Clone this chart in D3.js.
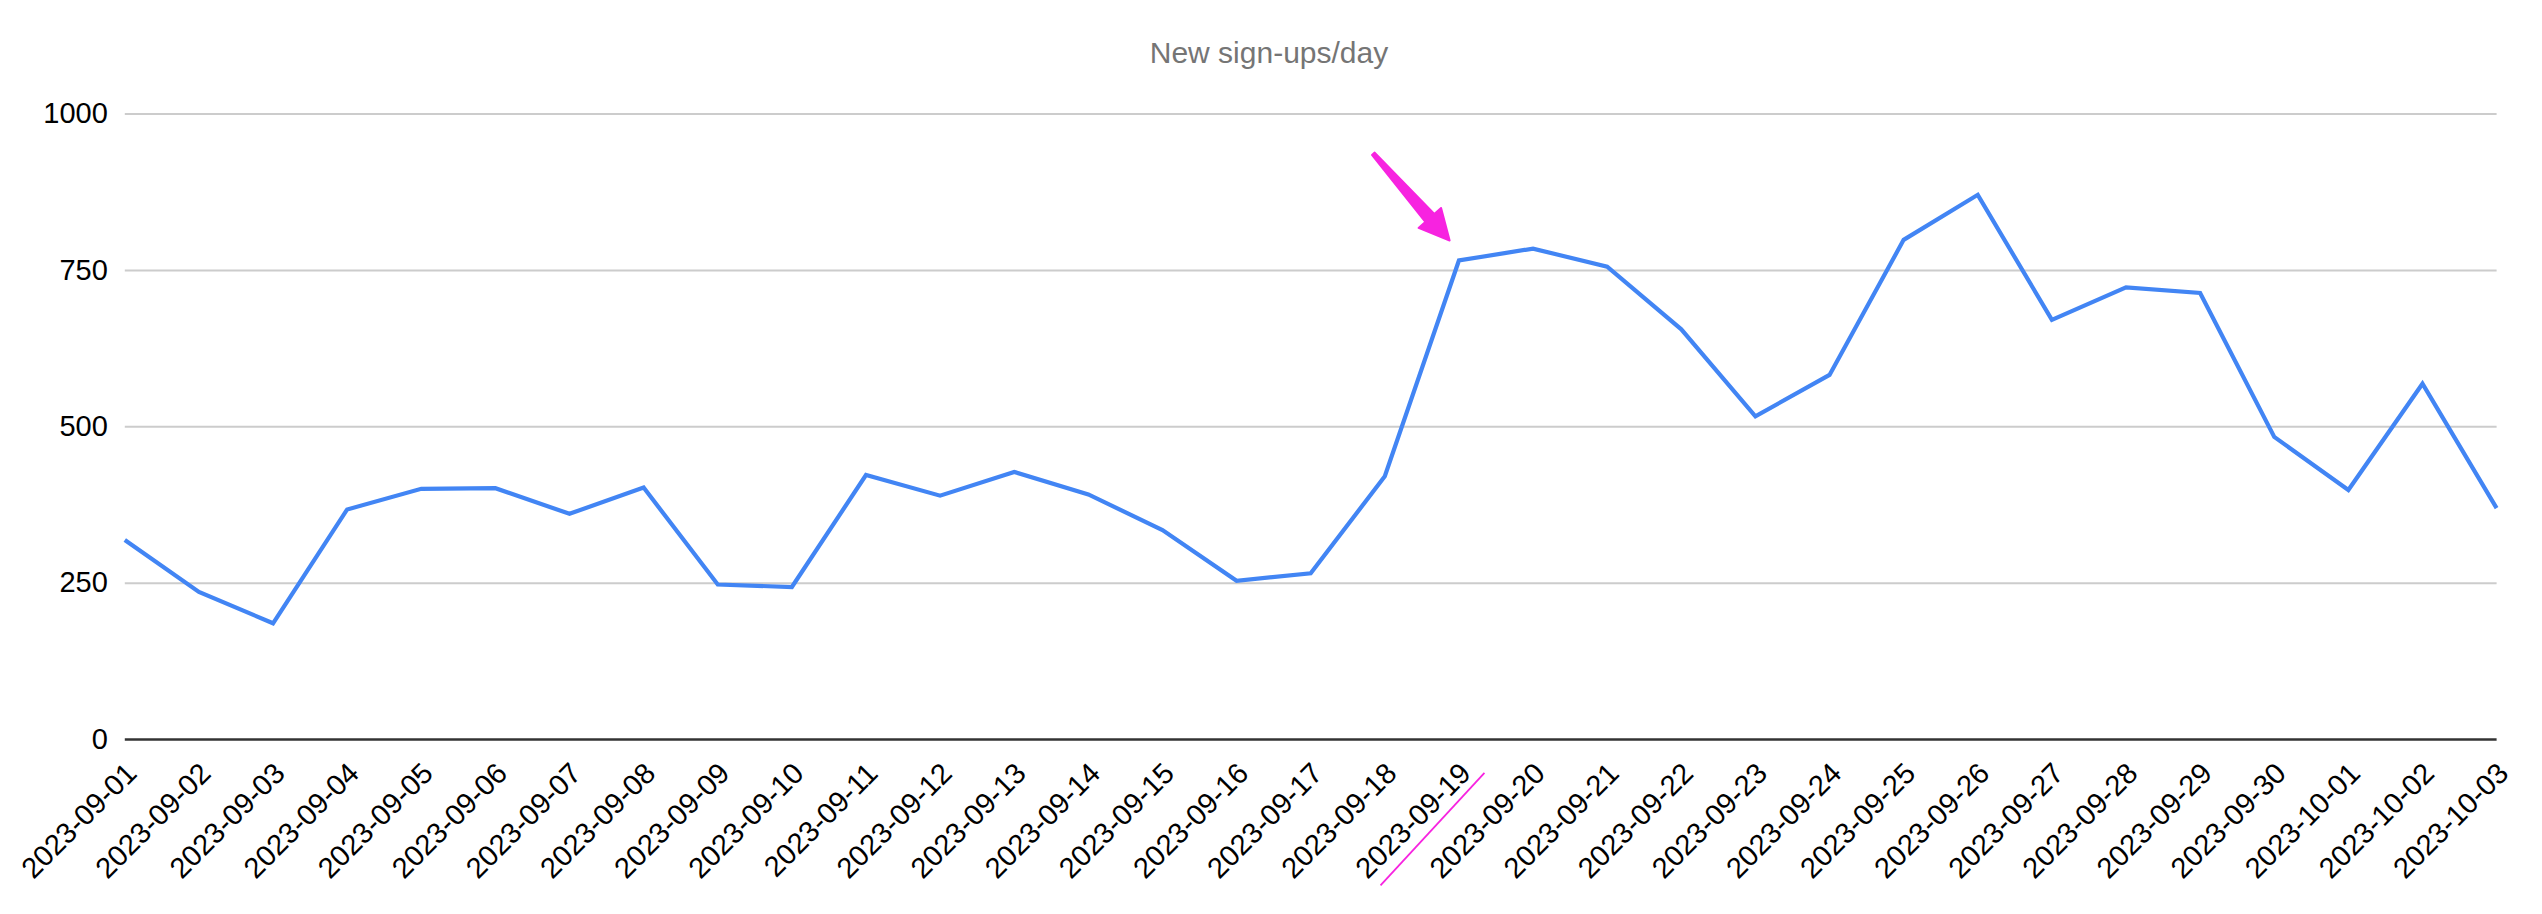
<!DOCTYPE html>
<html lang="en">
<head>
    <meta charset="UTF-8">
    <title>New sign-ups/day</title>
    <script src="https://d3js.org/d3.v7.min.js"></script>
    <style>
        body { margin: 0; background: #fff; }
        svg { display: block; font-family: Arial, "Liberation Sans", sans-serif; }
    </style>
</head>
<body>
    <svg width="2542" height="914"></svg>
    <script>
        const dates = [
            '2023-09-01', '2023-09-02', '2023-09-03', '2023-09-04', '2023-09-05', '2023-09-06',
            '2023-09-07', '2023-09-08', '2023-09-09', '2023-09-10', '2023-09-11', '2023-09-12',
            '2023-09-13', '2023-09-14', '2023-09-15', '2023-09-16', '2023-09-17', '2023-09-18',
            '2023-09-19', '2023-09-20', '2023-09-21', '2023-09-22', '2023-09-23', '2023-09-24',
            '2023-09-25', '2023-09-26', '2023-09-27', '2023-09-28', '2023-09-29', '2023-09-30',
            '2023-10-01', '2023-10-02', '2023-10-03'
        ];
        const signups = [
            318, 235, 185, 367, 400, 401, 360, 402, 247, 243, 422, 389,
            427, 391, 334, 253, 265, 420, 765, 784, 755, 655, 516, 582,
            798, 870, 670, 722, 713, 483, 398, 568, 369
        ];
        const yTicks = [0, 250, 500, 750, 1000];
        const highlightDate = '2023-09-19';

        const svg = d3.select('svg');
        const W = +svg.attr('width');
        const plot = { left: 124.8, right: 2496.6, top: 113.5, bottom: 739 };

        const x = d3.scalePoint().domain(dates).range([plot.left, plot.right]);
        const y = d3.scaleLinear().domain([0, 1000]).range([plot.bottom, plot.top]);

        // title
        svg.append('text')
            .attr('x', W / 2 - 2)
            .attr('y', 63)
            .attr('text-anchor', 'middle')
            .attr('font-size', 30)
            .attr('fill', '#757575')
            .text('New sign-ups/day');

        // y axis + gridlines
        const yAxis = svg.append('g')
            .attr('transform', `translate(${plot.left},0)`)
            .call(d3.axisLeft(y).tickValues(yTicks).tickFormat(d3.format('d'))
                .tickSize(-(plot.right - plot.left)).tickPadding(17));
        yAxis.select('.domain').remove();
        yAxis.selectAll('.tick line')
            .attr('stroke', d => d === 0 ? '#333' : '#ccc')
            .attr('stroke-width', d => d === 0 ? 2.6 : 2);
        yAxis.selectAll('.tick text')
            .attr('font-size', 29)
            .attr('fill', '#000')
            .attr('font-family', 'Arial, "Liberation Sans", sans-serif');

        // x axis labels, slanted
        const xAxis = svg.append('g')
            .attr('transform', `translate(0,${plot.bottom})`)
            .call(d3.axisBottom(x).tickSize(0));
        xAxis.select('.domain').remove();
        xAxis.selectAll('.tick text')
            .attr('y', 0)
            .attr('dy', null)
            .attr('text-anchor', 'end')
            .attr('transform', 'translate(13,36) rotate(-45)')
            .attr('font-size', 29)
            .attr('fill', '#000')
            .attr('font-family', 'Arial, "Liberation Sans", sans-serif');

        // line
        const data = dates.map((d, i) => ({ date: d, value: signups[i] }));
        const line = d3.line().x(d => x(d.date)).y(d => y(d.value));
        svg.append('path')
            .datum(data)
            .attr('fill', 'none')
            .attr('stroke', '#4285f4')
            .attr('stroke-width', 4.2)
            .attr('d', line);

        // annotation: arrow pointing at the highlighted day
        const hi = data.find(d => d.date === highlightDate);
        const px = x(hi.date), py = y(hi.value);
        const tip = [px - 9.3, py - 20];
        const tail = [px - 85.6, py - 106.7];
        const len = Math.hypot(tip[0] - tail[0], tip[1] - tail[1]);
        const ux = (tip[0] - tail[0]) / len, uy = (tip[1] - tail[1]) / len;
        const nx = -uy, ny = ux;
        const headLen = 30, headHalf = 15;
        const base = [tip[0] - ux * headLen, tip[1] - uy * headLen];
        const pt = (p, w) => [p[0] + nx * w, p[1] + ny * w];
        const arrowPts = [pt(tail, 1.8), pt(base, 6), pt(base, headHalf), tip,
                          pt(base, -headHalf), pt(base, -6), pt(tail, -1.8)];
        svg.append('path')
            .attr('d', 'M' + arrowPts.map(p => p.join(',')).join('L') + 'Z')
            .attr('fill', '#f723e0')
            .attr('stroke', '#f723e0')
            .attr('stroke-width', 2)
            .attr('stroke-linejoin', 'round');

        // annotation: underline of the highlighted label
        xAxis.selectAll('.tick')
            .filter(d => d === highlightDate)
            .append('line')
            .attr('transform', 'translate(13,36) rotate(-45)')
            .attr('x1', 10).attr('y1', 7)
            .attr('x2', -143).attr('y2', 13)
            .attr('stroke', '#f723e0')
            .attr('stroke-width', 1.8);
    </script>
</body>
</html>
